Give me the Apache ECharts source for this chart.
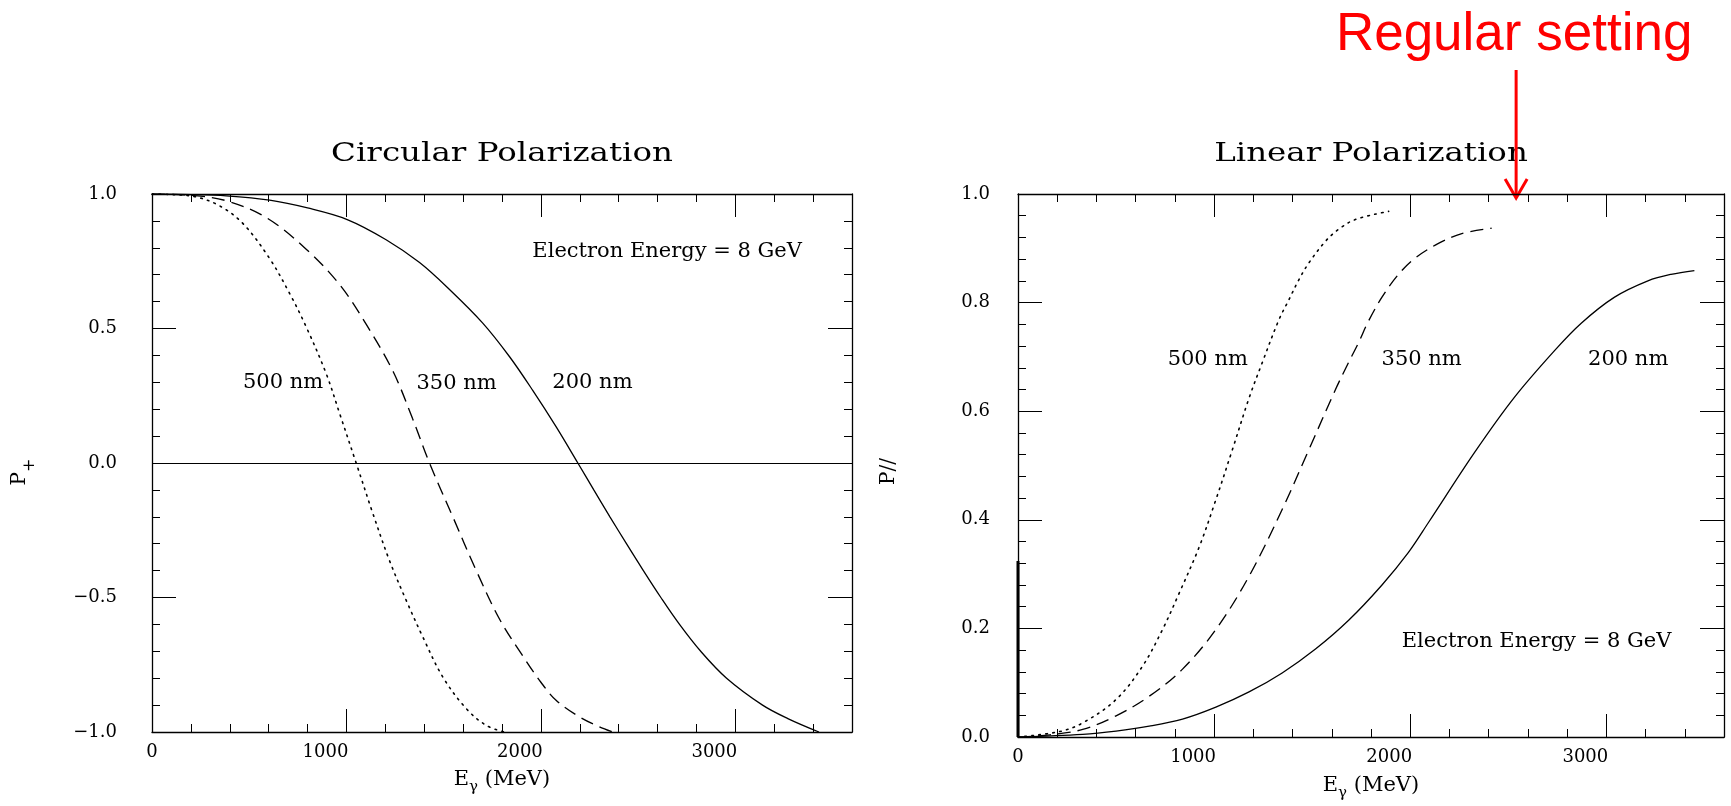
<!DOCTYPE html>
<html>
<head>
<meta charset="utf-8">
<title>Compton backscattered photon polarization</title>
<script src="https://cdn.jsdelivr.net/npm/echarts@6/dist/echarts.min.js"></script>
<style>
  html, body { margin: 0; padding: 0; background: #ffffff; }
  #main { width: 1731px; height: 806px; }
</style>
</head>
<body>
<div id="main"></div>
<script>
// ---- Circular polarization P+ versus photon energy E (MeV) ----
const circE500 = [0, 100, 228, 350, 468, 605, 708, 793, 896, 965, 1050, 1136, 1221, 1307, 1393, 1496, 1616, 1718, 1812];
const circP500 = [1.0, 0.998, 0.989, 0.955, 0.89, 0.76, 0.63, 0.506, 0.332, 0.184, 0.0, -0.188, -0.362, -0.51, -0.647, -0.796, -0.913, -0.975, -1.0];

const circE350 = [0, 200, 382, 588, 793, 965, 1102, 1240, 1340, 1427, 1547, 1667, 1787, 1900, 2000, 2078, 2198, 2301, 2369];
const circP350 = [1.0, 0.995, 0.975, 0.912, 0.795, 0.663, 0.515, 0.34, 0.165, 0.0, -0.2, -0.399, -0.58, -0.71, -0.815, -0.882, -0.944, -0.981, -1.0];

const circE200 = [0, 200, 382, 605, 800, 1004, 1204, 1376, 1530, 1701, 1839, 1958, 2078, 2190, 2272, 2355, 2440, 2527, 2617, 2713, 2822, 2955, 3140, 3270, 3430];
const circP200 = [1.0, 0.998, 0.993, 0.977, 0.948, 0.905, 0.83, 0.745, 0.645, 0.52, 0.395, 0.27, 0.135, 0.0, -0.1, -0.2, -0.3, -0.4, -0.5, -0.6, -0.7, -0.8, -0.9, -0.95, -1.0];

// ---- Linear polarization P// versus photon energy E (MeV) ----
const linE500 = [0, 212, 330, 500, 636, 737, 822, 924, 1009, 1093, 1178, 1245, 1330, 1381, 1432, 1483, 1568, 1635, 1720, 1890];
const linP500 = [0, 0.01, 0.026, 0.069, 0.131, 0.198, 0.265, 0.35, 0.437, 0.529, 0.624, 0.689, 0.768, 0.805, 0.842, 0.873, 0.913, 0.935, 0.953, 0.968];

const linE350 = [0, 162, 330, 500, 669, 839, 1009, 1178, 1347, 1483, 1619, 1686, 1735, 1786, 1856, 1940, 2025, 2144, 2263, 2415];
const linP350 = [0, 0.004, 0.014, 0.039, 0.075, 0.125, 0.198, 0.296, 0.419, 0.529, 0.64, 0.69, 0.725, 0.765, 0.81, 0.852, 0.882, 0.909, 0.927, 0.937];

const linE200 = [0, 330, 500, 669, 839, 1009, 1178, 1347, 1517, 1686, 1856, 1991, 2093, 2330, 2530, 2737, 2872, 3042, 3212, 3330, 3449];
const linP200 = [0, 0.005, 0.011, 0.02, 0.033, 0.055, 0.083, 0.118, 0.162, 0.215, 0.28, 0.34, 0.395, 0.525, 0.625, 0.712, 0.762, 0.81, 0.84, 0.852, 0.859];

// short heavy trace along the E = 0 edge of the linear plot
const linEdgeE = [0, 0];
const linEdgeP = [0, 0.324];

// axis ranges and tick steps
const energyMax = 3600;
const energyMajor = 1000;
const energyMinor = 200;
const circRange = [-1, 1], circStep = 0.5;
const linRange = [0, 1], linStep = 0.2;

// curve labels, placed in data coordinates
const circNotes = [
  { text: '500 nm', at: [468, 0.298] },
  { text: '350 nm', at: [1360, 0.296] },
  { text: '200 nm', at: [2059, 0.30] },
  { text: 'Electron Energy = 8 GeV', at: [1956, 0.787] }
];
const linNotes = [
  { text: '500 nm', at: [763, 0.695] },
  { text: '350 nm', at: [1854, 0.695] },
  { text: '200 nm', at: [2907, 0.695] },
  { text: 'Electron Energy = 8 GeV', at: [1957, 0.176] }
];
const settingEnergy = 2540;   // marked operating point on the linear plot
const settingText = 'Regular setting';

// ---------------------------------------------------------------
const INK = '#000000';
const SERIF = 'DejaVu Serif';
const tickFont = { fontFamily: SERIF, fontSize: 18, color: INK };

const pairs = (xs, ys) => xs.map((x, i) => [x, ys[i]]);

function energyLabel(v) {
  if (v % energyMajor !== 0) return '';
  return v === 0 ? '{z|0}' : '{n|' + v + '}';
}
function polLabel(v) {
  const r = Math.round(v * 10) / 10;
  return (r < 0 ? '\u2212' : '') + Math.abs(r).toFixed(1);
}

const energyName = '{e|E}{g|\u03b3}{t| (MeV)}';
const energyNameRich = {
  e: { fontFamily: SERIF, fontSize: 21, color: INK, lineHeight: 30, verticalAlign: 'middle' },
  g: { fontFamily: SERIF, fontSize: 15, color: INK, lineHeight: 30, verticalAlign: 'bottom' },
  t: { fontFamily: SERIF, fontSize: 21, color: INK, lineHeight: 30, verticalAlign: 'middle' }
};

function energyAxes(grid, nameGap) {
  const common = {
    gridIndex: grid, type: 'value', min: 0, max: energyMax,
    splitLine: { show: false }
  };
  const frame = { show: true, onZero: false, lineStyle: { color: INK, width: 1.3 } };
  const minorTicks = { show: true, inside: true, length: 8, lineStyle: { color: INK, width: 1 } };
  const majorTicks = { show: true, inside: true, length: 23, lineStyle: { color: INK, width: 1 } };
  return [
    Object.assign({}, common, {
      position: 'bottom', interval: energyMinor, axisLine: frame, axisTick: minorTicks,
      axisLabel: {
        show: true, margin: 11, formatter: energyLabel, showMaxLabel: false,
        rich: { z: Object.assign({}, tickFont), n: Object.assign({ padding: [0, 42, 0, 0] }, tickFont) }
      },
      name: energyName, nameLocation: 'middle', nameGap: nameGap,
      nameTextStyle: { rich: energyNameRich }
    }),
    Object.assign({}, common, {
      position: 'bottom', interval: energyMajor, axisLine: { show: false, onZero: false },
      axisTick: majorTicks, axisLabel: { show: false }
    }),
    Object.assign({}, common, {
      position: 'top', interval: energyMinor, axisLine: frame, axisTick: minorTicks,
      axisLabel: { show: false }
    }),
    Object.assign({}, common, {
      position: 'top', interval: energyMajor, axisLine: { show: false, onZero: false },
      axisTick: majorTicks, axisLabel: { show: false }
    })
  ];
}

function polAxes(grid, range, step, margin) {
  const common = {
    gridIndex: grid, type: 'value', min: range[0], max: range[1], interval: step,
    splitLine: { show: false },
    axisLine: { show: true, onZero: false, lineStyle: { color: INK, width: 1.3 } },
    axisTick: { show: true, inside: true, length: 24, lineStyle: { color: INK, width: 1 } },
    minorTick: { show: true, splitNumber: 5, length: 8, lineStyle: { color: INK, width: 1 } }
  };
  return [
    Object.assign({}, common, {
      position: 'left',
      axisLabel: Object.assign({ show: true, margin: margin, formatter: polLabel }, tickFont)
    }),
    Object.assign({}, common, { position: 'right', axisLabel: { show: false } })
  ];
}

function curve(name, data, xIdx, yIdx, style) {
  return {
    name: name, type: 'line', xAxisIndex: xIdx, yAxisIndex: yIdx,
    data: data, showSymbol: false, symbol: 'none',
    smooth: 0.35,
    clip: true, silent: true,
    lineStyle: Object.assign({ color: INK, width: 1.3 }, style)
  };
}
const DOTTED = { type: [1.6, 5.4], width: 1.6, cap: 'round' };
const DASHED = { type: [13, 7], width: 1.35 };
const SOLID = { type: 'solid', width: 1.3 };

const chart = echarts.init(document.getElementById('main'), null, { renderer: 'canvas' });

const option = {
  animation: false,
  backgroundColor: '#ffffff',
  grid: [
    { left: 152, top: 194, width: 700, height: 538 },
    { left: 1018, top: 194, width: 706, height: 544 }
  ],
  xAxis: energyAxes(0, 33).concat(energyAxes(1, 34)),
  yAxis: polAxes(0, circRange, circStep, 35).concat(polAxes(1, linRange, linStep, 28)),
  series: [
    curve('500 nm', pairs(circE500, circP500), 0, 0, DOTTED),
    curve('350 nm', pairs(circE350, circP350), 0, 0, DASHED),
    Object.assign(curve('200 nm', pairs(circE200, circP200), 0, 0, SOLID), {
      markLine: {
        silent: true, symbol: 'none', label: { show: false },
        lineStyle: { color: INK, width: 1.2, type: 'solid' },
        data: [{ yAxis: 0 }]
      }
    }),
    curve('500 nm', pairs(linE500, linP500), 4, 2, DOTTED),
    curve('350 nm', pairs(linE350, linP350), 4, 2, DASHED),
    curve('200 nm', pairs(linE200, linP200), 4, 2, SOLID),
    Object.assign(curve('edge', pairs(linEdgeE, linEdgeP), 4, 2, { type: 'solid', width: 3 }), { smooth: false })
  ]
};
chart.setOption(option);

// ---- text and the operating-point arrow, positioned from data coordinates ----
const toCirc = p => chart.convertToPixel({ xAxisIndex: 0, yAxisIndex: 0 }, p);
const toLin = p => chart.convertToPixel({ xAxisIndex: 4, yAxisIndex: 2 }, p);

function noteGraphics(notes, toPx) {
  return notes.map(n => {
    const p = toPx(n.at);
    return {
      type: 'text', x: p[0], y: p[1], silent: true,
      style: { text: n.text, fontFamily: SERIF, fontSize: 21, fill: INK, align: 'left', verticalAlign: 'middle' }
    };
  });
}

const circTop = toCirc([energyMax / 2, circRange[1]]);
const linTop = toLin([energyMax / 2, linRange[1]]);
const circMid = toCirc([0, 0]);
const linMid = toLin([0, 0.5]);
const arrowTop = toLin([settingEnergy, linRange[1]]);
const ax = arrowTop[0];
const tipY = arrowTop[1] + 4;

const graphics = [
  {
    type: 'text', x: circTop[0], y: circTop[1] - 40, scaleX: 1.25, silent: true,
    style: { text: 'Circular Polarization', fontFamily: SERIF, fontSize: 26, fill: INK, align: 'center', verticalAlign: 'middle' }
  },
  {
    type: 'text', x: linTop[0], y: linTop[1] - 40, scaleX: 1.25, silent: true,
    style: { text: 'Linear Polarization', fontFamily: SERIF, fontSize: 26, fill: INK, align: 'center', verticalAlign: 'middle' }
  },
  {
    type: 'text', x: circMid[0] - 128, y: circMid[1] + 9, rotation: Math.PI / 2, silent: true,
    style: {
      text: '{p|P}{s|+}', align: 'center', verticalAlign: 'middle',
      rich: {
        p: { fontFamily: SERIF, fontSize: 20, fill: INK, lineHeight: 28, verticalAlign: 'top' },
        s: { fontFamily: SERIF, fontSize: 16, fill: INK, lineHeight: 28, verticalAlign: 'bottom' }
      }
    }
  },
  {
    type: 'text', x: linMid[0] - 129, y: linMid[1] + 6, rotation: Math.PI / 2, silent: true,
    style: { text: 'P//', fontFamily: SERIF, fontSize: 20, fill: INK, align: 'center', verticalAlign: 'middle' }
  },
  {
    type: 'text', x: ax - 2, y: 35, silent: true,
    style: { text: settingText, fontFamily: 'Liberation Sans', fontSize: 53, fill: '#ff0000', align: 'center', verticalAlign: 'middle' }
  },
  {
    type: 'line', silent: true,
    shape: { x1: ax, y1: 70, x2: ax, y2: tipY - 1 },
    style: { stroke: '#ff0000', lineWidth: 3 }
  },
  {
    type: 'polyline', silent: true,
    shape: { points: [[ax - 11, tipY - 19], [ax, tipY], [ax + 11, tipY - 19]] },
    style: { stroke: '#ff0000', lineWidth: 3, fill: null }
  }
].concat(noteGraphics(circNotes, toCirc), noteGraphics(linNotes, toLin));

chart.setOption({ graphic: graphics });
</script>
</body>
</html>
